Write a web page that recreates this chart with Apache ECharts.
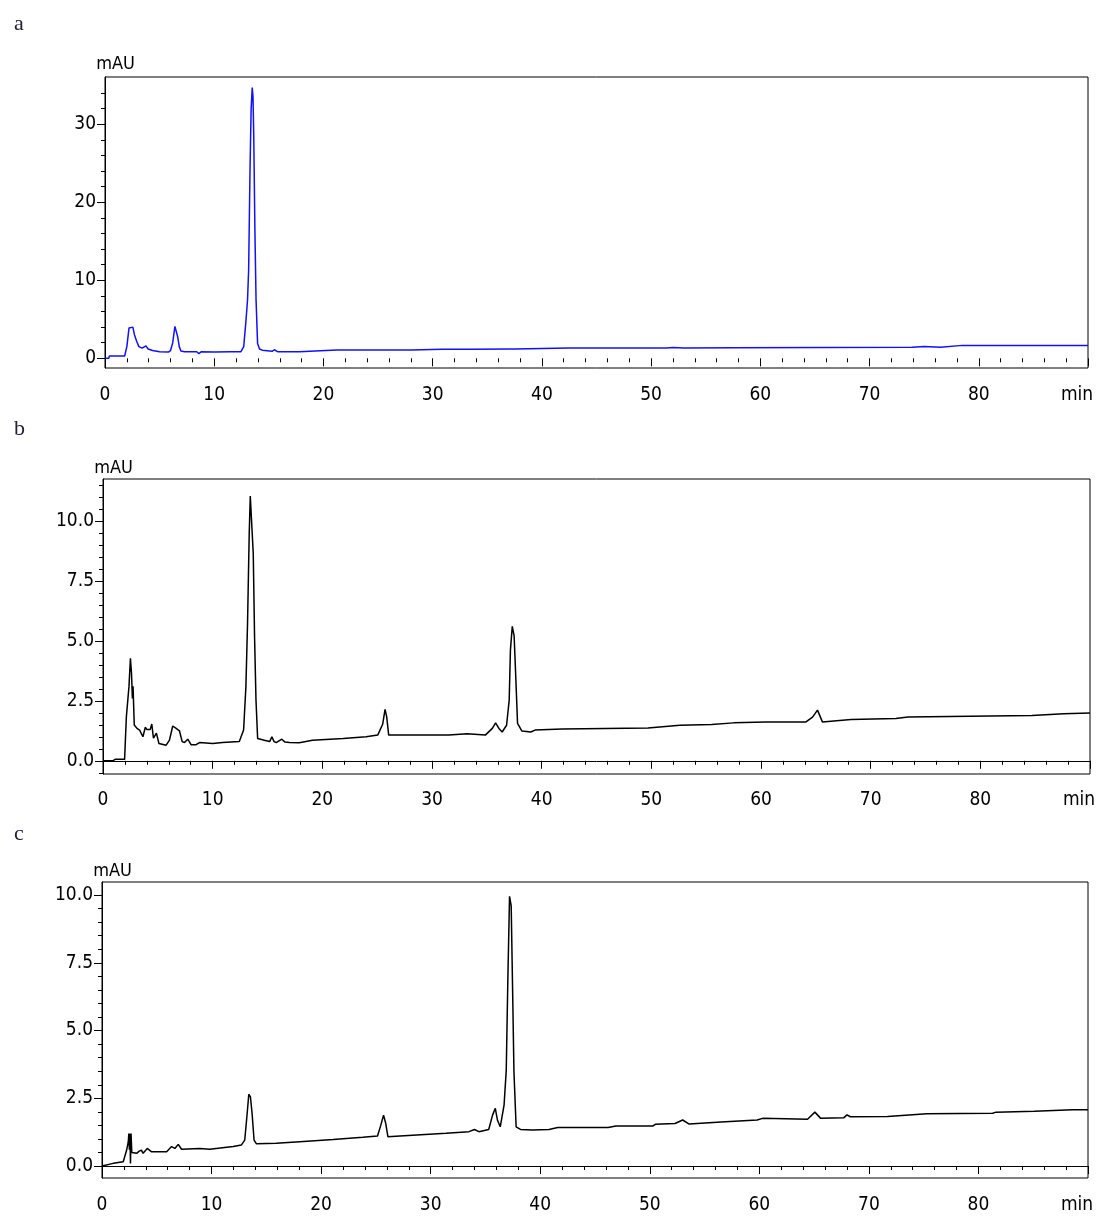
<!DOCTYPE html>
<html>
<head>
<meta charset="utf-8">
<script src="https://cdn.jsdelivr.net/npm/echarts@6/dist/echarts.min.js"></script>
<style>
html,body{margin:0;padding:0;background:#fff;}
#chart{width:1109px;height:1216px;}
</style>
</head>
<body>
<div id="chart"></div>
<script>
// ---- data (time in min, absorbance in mAU) ----
const panelLabels = ['a', 'b', 'c'];
const xTicks = [0, 10, 20, 30, 40, 50, 60, 70, 80, 90];
const yTicksA = [0, 10, 20, 30];
const yTicksBC = [0, 2.5, 5, 7.5, 10];

const traceA = [[0,0],[0.35,0],[0.4,0.3],[1.8,0.3],[2.0,1.5],[2.2,3.9],[2.35,4.1],[2.55,4.0],[2.7,3.0],[2.9,2.2],[3.1,1.5],[3.4,1.3],[3.75,1.6],[3.95,1.2],[4.35,1.0],[5.0,0.85],[5.8,0.8],[6.0,1.0],[6.2,2.0],[6.4,4.1],[6.5,3.9],[6.65,2.8],[6.8,1.5],[6.95,0.95],[7.3,0.85],[8.4,0.85],[8.6,0.6],[8.8,0.85],[10.0,0.8],[11.5,0.85],[12.45,0.85],[12.7,1.5],[12.9,4.7],[13.05,7.5],[13.15,11.3],[13.28,24.4],[13.38,32],[13.48,34.7],[13.55,33.5],[13.62,28.5],[13.72,16.9],[13.83,7.5],[13.97,1.9],[14.15,1.2],[14.4,1.05],[15.3,0.9],[15.5,1.1],[15.8,0.85],[17.8,0.85],[20.2,1.0],[21.3,1.06],[28.0,1.06],[30.9,1.15],[33.4,1.15],[33.5,1.3],[33.6,1.15],[37.0,1.19],[37.1,1.05],[37.3,1.19],[37.5,1.19],[42.5,1.32],[51.4,1.32],[52,1.4],[53,1.32],[57.5,1.36],[73.9,1.41],[75,1.5],[76.5,1.41],[78.5,1.66],[90,1.66]];

const traceB = [[0,0],[0.9,0],[1.0,0.06],[1.1,0.06],[1.97,0.06],[2.13,1.83],[2.37,3.1],[2.5,4.27],[2.6,3.64],[2.68,2.6],[2.74,3.1],[2.85,1.49],[3.1,1.35],[3.34,1.28],[3.64,1.0],[3.86,1.4],[4.0,1.3],[4.15,1.35],[4.3,1.3],[4.45,1.53],[4.6,0.94],[4.87,1.15],[5.1,0.72],[5.76,0.65],[6.06,0.86],[6.36,1.45],[6.67,1.35],[6.97,1.25],[7.22,0.8],[7.43,0.76],[7.73,0.9],[8.03,0.67],[8.49,0.67],[8.8,0.76],[10,0.72],[10.9,0.76],[12.43,0.8],[12.82,1.28],[13.03,3.08],[13.18,5.72],[13.33,9.4],[13.43,11.03],[13.55,11.03],[13.7,8.64],[13.82,5.17],[13.95,2.53],[14.1,0.93],[14.7,0.86],[15.2,0.8],[15.4,1.0],[15.6,0.8],[15.8,0.76],[16.3,0.9],[16.6,0.78],[17,0.76],[17.9,0.75],[19.1,0.86],[21.9,0.93],[24,1.0],[25.05,1.07],[25.5,1.52],[25.72,2.14],[25.87,1.83],[26.05,1.07],[26.2,1.0],[31.55,1.07],[33.2,1.13],[34.86,1.07],[35.5,1.35],[35.8,1.58],[36.1,1.35],[36.4,1.2],[36.8,1.48],[37.04,2.53],[37.15,4.6],[37.32,5.6],[37.49,5.2],[37.65,3.36],[37.8,1.56],[38.2,1.24],[39,1.2],[39.4,1.28],[41.86,1.32],[49.7,1.37],[52.6,1.48],[55.5,1.51],[57.5,1.58],[60.4,1.62],[64.1,1.62],[64.7,1.82],[65.15,2.11],[65.6,1.62],[68.2,1.72],[72.3,1.76],[73.4,1.82],[84.7,1.89],[87.6,1.96],[90,1.99]];

const traceC = [[0,0],[1.03,0.1],[1.94,0.16],[2.25,0.59],[2.4,0.9],[2.45,1.2],[2.5,0.6],[2.55,1.2],[2.6,0.1],[2.65,1.2],[2.72,0.5],[3.16,0.47],[3.4,0.55],[3.6,0.59],[3.75,0.47],[4.13,0.65],[4.5,0.53],[5.9,0.53],[6.35,0.72],[6.65,0.65],[6.96,0.8],[7.26,0.62],[8.93,0.65],[9.84,0.62],[11.97,0.72],[12.73,0.78],[13.03,0.96],[13.25,1.94],[13.4,2.65],[13.55,2.55],[13.7,1.94],[13.88,0.96],[14.1,0.82],[15.9,0.84],[18.05,0.9],[21.1,0.98],[23.8,1.06],[25.15,1.11],[25.45,1.51],[25.7,1.88],[25.9,1.57],[26.1,1.08],[27.2,1.11],[31.4,1.21],[33.5,1.27],[34.0,1.35],[34.4,1.27],[35.3,1.35],[35.65,1.88],[35.9,2.13],[36.1,1.69],[36.35,1.45],[36.7,2.25],[36.9,3.54],[37.05,7.0],[37.2,9.95],[37.35,9.6],[37.5,6.0],[37.6,3.5],[37.8,1.45],[38.2,1.35],[39.3,1.33],[40.8,1.35],[41.6,1.42],[46.2,1.42],[46.9,1.48],[50.3,1.48],[50.5,1.54],[52.3,1.57],[53.0,1.7],[53.6,1.55],[56.5,1.63],[59.8,1.7],[60.3,1.76],[64.4,1.73],[65.07,1.99],[65.6,1.76],[67.7,1.78],[68.0,1.89],[68.3,1.82],[71.7,1.83],[75.3,1.93],[81.3,1.95],[81.6,1.99],[85.1,2.02],[88.6,2.08],[90,2.08]];

// ---- layout/styling ----
const FONT = "'Liberation Sans Narrow','DejaVu Sans Condensed','Liberation Sans',sans-serif";
const grids = [
  {left:105, top:77, width:983, height:291},
  {left:103, top:479, width:987, height:295},
  {left:102, top:882, width:986, height:296}
];
const yRanges = [[-1.24, 36.06], [-0.55, 11.74], [-0.44, 10.48]];
const yMajors = [yTicksA, yTicksBC, yTicksBC];
function minorTicks(lo, hi, step, majors){
  const out = [];
  for (let v = Math.ceil(lo/step)*step; v <= hi + 1e-9; v += step) {
    const r = Math.round(v*100)/100;
    if (!majors.some(m => Math.abs(m - r) < 1e-6)) out.push(r);
  }
  return out;
}
const yMinors = [
  minorTicks(0, 35, 2, yTicksA),
  minorTicks(-0.5, 11.74, 0.5, yTicksBC),
  minorTicks(-0.44, 10.48, 0.5, yTicksBC)
];
const yFmt = [v => String(v), v => v.toFixed(1), v => v.toFixed(1)];
const nameGaps = [4, 2, 2];
const xMargins = [15, 17, 18];

const xAxes = [], yAxes = [];
grids.forEach((g, i) => {
  xAxes.push({
    gridIndex:i, type:'value', min:0, max:90, interval:10, position:'bottom',
    offset: i === 0 ? 3 : 0,
    axisLine:{show: i !== 0, lineStyle:{color:'#000', width:1}},
    axisTick:{show:true, length:8, lineStyle:{color:'#000', width:1}},
    minorTick:{show:true, splitNumber:5, length:4, lineStyle:{color:'#000', width:1}},
    splitLine:{show:false}, minorSplitLine:{show:false},
    axisLabel:{
      margin: xMargins[i], color:'#000', fontSize:19, fontFamily:FONT,
      customValues: xTicks,
      formatter: v => v === 90 ? '{u|min}' : String(v),
      rich:{u:{fontSize:19, fontFamily:FONT, color:'#000', padding:[0,22,0,0]}}
    }
  });
  yAxes.push({
    gridIndex:i, type:'value', position:'left', min:yRanges[i][0], max:yRanges[i][1],
    name:'mAU', nameLocation:'end', nameGap:nameGaps[i],
    nameTextStyle:{color:'#000', fontSize:18, fontFamily:FONT, align:'center', padding:[0,0,0,21]},
    axisLine:{show:true, lineStyle:{color:'#000', width:1}},
    axisTick:{show:true, length:8, customValues: yMajors[i], lineStyle:{color:'#000', width:1}},
    axisLabel:{margin:9, color:'#000', fontSize:19, fontFamily:FONT, customValues: yMajors[i], formatter: yFmt[i]},
    splitLine:{show:false}
  });
  yAxes.push({
    gridIndex:i, type:'value', position:'left', offset:0, min:yRanges[i][0], max:yRanges[i][1],
    axisLine:{show:false},
    axisTick:{show:true, length:4, customValues: yMinors[i], lineStyle:{color:'#000', width:1}},
    axisLabel:{show:false},
    splitLine:{show:false}
  });
});

const traces = [traceA, traceB, traceC];
const colors = ['#1010ff', '#000000', '#000000'];
const series = traces.map((d, i) => ({
  type:'line', xAxisIndex:i, yAxisIndex:i*2, data:d,
  symbol:'none', showSymbol:false, smooth:false,
  lineStyle:{color:colors[i], width:1.5}, itemStyle:{color:colors[i]},
  silent:true, z:3
}));

const titleTops = [8, 413, 818];
const titles = panelLabels.map((t, i) => ({
  text:t, left:9, top:titleTops[i],
  textStyle:{fontFamily:"'Liberation Serif','DejaVu Serif',serif", fontWeight:'normal', fontSize:22, color:'#202038'}
}));

const chart = echarts.init(document.getElementById('chart'), null, {renderer:'canvas'});
chart.setOption({
  animation:false,
  backgroundColor:'#fff',
  title: titles,
  grid: grids.map(g => Object.assign({show:true, borderColor:'#000', borderWidth:1, backgroundColor:'transparent', containLabel:false}, g)),
  xAxis: xAxes,
  yAxis: yAxes,
  series: series
});
</script>
</body>
</html>
